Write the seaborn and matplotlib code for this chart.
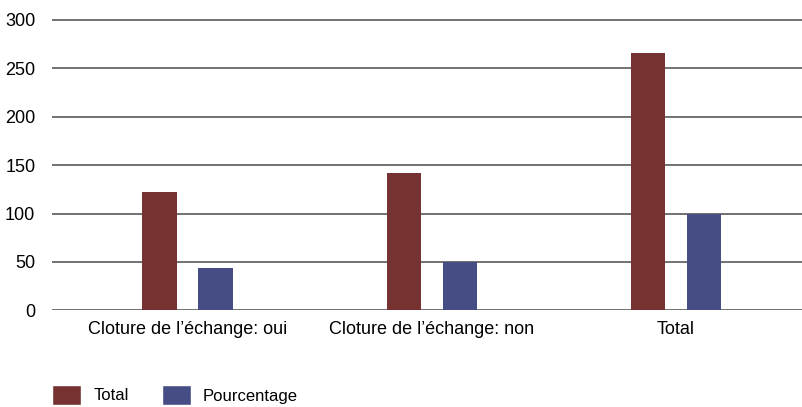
import seaborn as sns
import matplotlib.pyplot as plt
from matplotlib.patches import Patch
import pandas as pd

# Data
categories = ["Cloture de l\u2019échange: oui", "Cloture de l\u2019échange: non", "Total"]
total_values = [122, 142, 266]
pct_values = [44, 50, 100]
series = ["Total", "Pourcentage"]
colors = {"Total": "#763231", "Pourcentage": "#464D85"}

df = pd.DataFrame({
    "categorie": categories * 2,
    "serie": [series[0]] * 3 + [series[1]] * 3,
    "valeur": total_values + pct_values,
})

sns.set_style("white")
plt.rcParams["font.family"] = ["Liberation Sans", "DejaVu Sans"]
plt.rcParams["text.color"] = "black"

fig = plt.figure(figsize=(8.03, 4.07), dpi=100)
ax = fig.add_axes([52 / 803, 96.7 / 407, 1 - 52 / 803, (290.3 + 1.5) / 407])

sns.barplot(data=df, x="categorie", y="valeur", hue="serie", palette=colors,
            width=0.46, gap=0.39, ax=ax, legend=False, saturation=1,
            edgecolor="none", linewidth=0)

ax.set_ylim(0, 301.5)
ax.set_yticks(range(0, 301, 50))
ax.set_xlim(-0.555, 2.52)
ax.yaxis.grid(True, color="#4a4a4a", linewidth=1.1)
ax.set_axisbelow(True)
for s in ax.spines.values():
    s.set_visible(False)
ax.set_xlabel("")
ax.set_ylabel("")
ax.tick_params(axis="y", length=0, pad=12, labelsize=13, labelcolor="black")
ax.tick_params(axis="x", length=0, pad=8, labelsize=13, labelcolor="black")

handles = [Patch(facecolor=colors[s], label=s) for s in series]
fig.legend(handles=handles, loc="center left", bbox_to_anchor=(52 / 803, 12 / 407),
           ncol=2, frameon=False, fontsize=12, handlelength=1.75, handleheight=1.5,
           handletextpad=0.72, columnspacing=2.0, borderpad=0, borderaxespad=0,
           labelcolor="black")

fig.savefig("out.png", dpi=100)
